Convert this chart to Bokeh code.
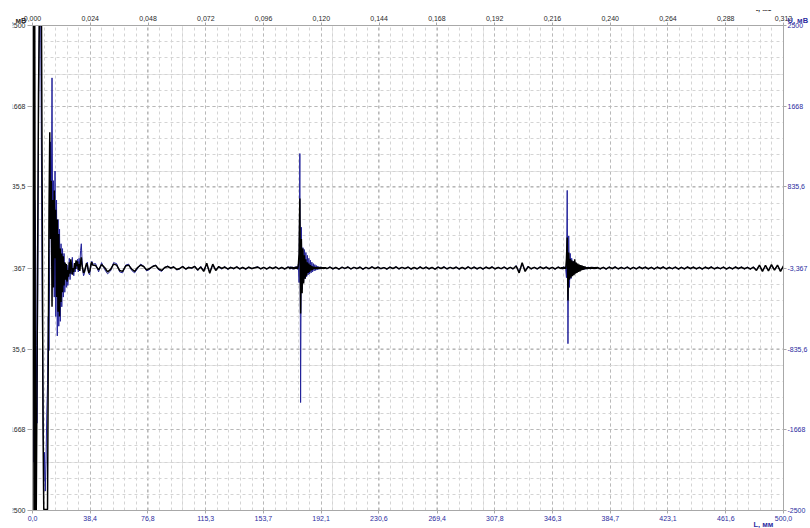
from bokeh.plotting import figure
from bokeh.models import (Range1d, LinearAxis, FixedTicker, CustomJSTickFormatter,
                          Label, Grid)
from bokeh.embed import file_html
from bokeh.resources import INLINE

# ---- reflectogram traces: (start mm, step mm, values mV) segments ----
black_segments = [
    (0.0, 0.5, [0, 2500, -2500, 2500, -2500, -2500, -1200, 300, 1800, 2500,
                2500, 2500, 2500, 600, -1600, -2490, -2490, -2490, -2490, -2490,
                -2490, -900, 600, 1400, 300, 900, -400, 700, -200, 800,
                100, 600, -300, 500, -450, 350, -500, 200, -350, 150,
                -250, 120, -180, 60, -120, 40, -140, -20, -90, 60,
                -60, 90, 20, -70, 0, -40, 50, -10, 80, 20,
                70, -20, 40, -30, 60, 110, 20, -10, -50, -40,
                -10, 20, 50, 30, -20, -50, -40, 0, 40, 60, 30]),
    (42.0, 2.0, [25, -20, 35, 5, -40, -15, 40, 30, -25, -35, 20, 30, -10, -35, 5,
                 30, 15, -20, -5, 15, 25, -10, -25, 5, 15, 0, 10, -15, -5, 15,
                 -10, 5, 0, 15, -20, 10, -35, 50, -55, 40, -25, 15, -5, 10, -10,
                 5, -5, 12, -8, 5, -10, 8, -5, 3, 10, -8, 6, -10, 8, -5,
                 10, -8, 5, -10, 8]),
    (171.0, 0.5, [6, -8, 10, -5, 8, -10, 6, -8, 10, -6, 12, -10, 30, 150,
                  716, -470, 300, -260, 200, -160, 130, -110, 90, -80, 60, -50,
                  45, -40, 30, -25, 20, -18, 12, -8, 10, -10, 6, -8, 9, -7,
                  6, -8, 9, -6, 7, -8, 6, -7, 5]),
    (196.0, 2.0, [-6, 9, -8, 5, -11, 7, -4, 10, -9, 6, -5, 8, -12, 6, -7,
                  11, -5, 8, -6, 4, -10, 8, -5, 11, -8, 6, -5, 9, -10, 5,
                  -8, 10, -6, 8, -8, 5, -11, 9, -5, 10, -8, 6, -5, 8, -10,
                  5, -8, 11, -6, 8, -8, 6, -10, 8, -5, 10, -8, 5, -6, 9,
                  -10, 6, -8, 20, -50, 55, -35, 15, -8, 6, -8, 10, -5, 8, -8,
                  6, -10, 8, -5]),
    (352.5, 0.5, [6, -8, 9, -6, 8, -10, 90, 315, -335, 160, -120, 95, -100, 80,
                  -85, 70, -75, 90, -60, 55, -50, 45, -40, 35, -35, 30, -25, 25,
                  -20, 18, -14, 12, -10, 8, -9, 8, -7, 6, -8, 9, -6, 7,
                  -8, 6, -7, 8, -6, 5]),
    (378.0, 2.0, [-8, 6, -10, 8, -5, 10, -8, 5, -6, 9, -10, 6, -8, 10, -5,
                  8, -8, 6, -10, 8, -5, 10, -8, 5, -6, 9, -10, 6, -8, 10,
                  -5, 8, -8, 6, -10, 8, -5, 10, -8, 5, -6, 9, -10, 6, -8,
                  10, -5, 8, -8, 6, -10, 8, -25, 30, -35, 28, -30, 35, -22, 30,
                  -35, 22]),
]

blue_segments = [
    (0.0, 0.5, [0, 1800, -2000, 700, 400, -800, -1600, -200, 1500, 2500,
                2500, 2500, 1000, -400, -1300, -2200, -1900, -2300, -2000, -1500,
                -1200, -500, -850, 200, 1300, 600, 1960, 200, 900, -300,
                1000, -500, 700, -700, 500, -600, 400, -550, 250, -400,
                200, -300, 150, -250, 50, -200, 30, -180, -60, 100,
                -120, 60, -60, 110, -30, -80, 30, -40, 60, -10,
                90, -40, 100, 20, 180, 250, 80, -30, -80, -60,
                -20, 10, 40, 60, 0, -60, -70, -20, 30, 70, 40]),
    (42.0, 2.0, [45, -40, 55, -15, -60, -30, 55, 45, -40, -50, 30, 40, -25, -50, -5,
                 40, 20, -30, -15, 20, 30, -20, -35, 5, 20, -5, 15, -20, -10, 20,
                 -15, 10, -5, 20, -25, 15, -25, 35, -40, 30, -20, 10, -10, 15, -15,
                 10, -10, 15, -12, 8, -15, 10, -8, 5, 12, -10, 8, -12, 10, -8,
                 12, -10, 8, -12, 10]),
    (171.0, 0.5, [10, -12, 14, -9, 12, -14, 10, -12, 14, -10, 16, -14, 40, -150,
                  1180, -1387, 420, -220, 210, -140, 190, -110, 160, -90, 130, -70,
                  100, -60, 80, -50, 60, -40, 45, -30, 35, -25, 25, -20, 18, -14,
                  12, -12, 12, -10, 10, -10, 9, -9, 8]),
    (196.0, 2.0, [-10, 12, -12, 9, -14, 10, -8, 13, -12, 9, -9, 12, -15, 9, -10,
                  14, -9, 12, -10, 8, -14, 12, -9, 14, -12, 9, -9, 12, -14, 9,
                  -12, 14, -10, 12, -12, 9, -14, 12, -9, 14, -12, 9, -9, 12, -14,
                  9, -12, 14, -10, 12, -12, 9, -14, 12, -9, 14, -12, 9, -10, 12,
                  -14, 9, -12, 25, -40, 45, -30, 20, -12, 9, -12, 14, -9, 12, -12,
                  9, -14, 12, -9]),
    (352.5, 0.5, [10, -12, 14, -10, 12, -14, -100, 800, -780, 330, -200, 150, -110,
                  100, -80, 70, -60, 60, -50, 45, -40, 35, -30, 30, -25, 25, -20,
                  20, -18, 15, -14, 12, -12, 10, -10, 12, -10, 9, -12, 10, -9,
                  12, -10, 9, -12, 10, -9, 8]),
    (378.0, 2.0, [-12, 9, -14, 12, -9, 14, -12, 9, -10, 12, -14, 9, -12, 14, -9,
                  12, -12, 9, -14, 12, -9, 14, -12, 9, -10, 12, -14, 9, -12, 14,
                  -9, 12, -12, 9, -14, 12, -9, 14, -12, 9, -10, 12, -14, 9, -12,
                  14, -9, 12, -12, 9, -14, 12, -20, 25, -30, 22, -25, 30, -18, 25,
                  -30, 18]),
]

# ---- axis tick values and labels ----
l_ticks = [0.0, 38.4, 76.8, 115.3, 153.7, 192.1, 230.6, 269.4, 307.8, 346.3,
           384.7, 423.1, 461.6, 500.0]
t_ticks = [0.000, 0.024, 0.048, 0.072, 0.096, 0.120, 0.144, 0.168, 0.192, 0.216,
           0.240, 0.264, 0.288, 0.312]
u_left_ticks = [2500, 1668, 835.5, -3.367, -835.6, -1668, -2500]
u_right_ticks = [2500, 1668, 835.6, -3.367, -835.6, -1668, -2500]

BLUE = "#22229a"
LABEL_BLUE = "#2b2ba0"
DARK = "#2a2a2a"
FONT = "Liberation Sans"

# the canvas reaches TOP px above and LEFT px left of the window;
# those hidden strips give the side panels room for the caption rows
TOP = 70
LEFT = 14


def build(segments):
    xs, ys = [], []
    for start, step, vals in segments:
        for i, v in enumerate(vals):
            xs.append(round(start + i * step, 3))
            ys.append(v)
    return xs, ys


bx, by = build(black_segments)
ux, uy = build(blue_segments)

p = figure(width=810 + LEFT, height=528 + TOP,
           x_range=Range1d(0, 500), y_range=Range1d(-2500, 2500),
           output_backend="svg", toolbar_location=None,
           x_axis_location=None, y_axis_location=None,
           min_border_left=32 + LEFT, min_border_right=24, min_border_top=25 + TOP,
           min_border_bottom=18)
p.margin = (-TOP, 0, 0, -LEFT)
p.extra_x_ranges = {"t": Range1d(0, 0.312)}
p.background_fill_color = "white"
p.border_fill_color = "white"
p.outline_line_color = "#a8a8a8"

# minor grid positions: five subdivisions per major interval
x_minor = [i * 500 / 65 for i in range(66)]
y_minor = [-2500 + i * 5000 / 30 for i in range(31)]

x_ticker = FixedTicker(ticks=l_ticks, minor_ticks=x_minor)
y_ticker = FixedTicker(ticks=u_left_ticks, minor_ticks=y_minor)

for dim, tk in ((0, x_ticker), (1, y_ticker)):
    g = Grid(dimension=dim, ticker=tk,
             grid_line_color="#b8b8b8", grid_line_dash="3 3", grid_line_width=1,
             minor_grid_line_color="#d4d4d4", minor_grid_line_dash="3 3",
             minor_grid_line_width=1)
    p.add_layout(g)


def style_axis(ax, color, tick_out):
    ax.major_label_text_font = FONT
    ax.major_label_text_font_size = "7px"
    ax.major_label_text_color = color
    ax.axis_line_color = "#a8a8a8"
    ax.major_tick_line_color = "#a8a8a8"
    ax.major_tick_in = 0
    ax.major_tick_out = tick_out
    ax.minor_tick_in = 0
    ax.minor_tick_out = 0
    ax.major_label_standoff = 2


bottom = LinearAxis(ticker=FixedTicker(ticks=l_ticks),
                    formatter=CustomJSTickFormatter(code="return tick.toFixed(1).replace('.', ',')"))
style_axis(bottom, LABEL_BLUE, 3)
p.add_layout(bottom, "below")

top = LinearAxis(x_range_name="t", ticker=FixedTicker(ticks=t_ticks),
                 formatter=CustomJSTickFormatter(code="return tick.toFixed(3).replace('.', ',')"))
style_axis(top, DARK, 3)
p.add_layout(top, "above")

left = LinearAxis(ticker=FixedTicker(ticks=u_left_ticks),
                  formatter=CustomJSTickFormatter(code="return String(tick).replace('.', ',')"))
style_axis(left, DARK, 5)
p.add_layout(left, "left")

right = LinearAxis(ticker=FixedTicker(ticks=u_right_ticks),
                   formatter=CustomJSTickFormatter(code="return String(tick).replace('.', ',')"))
style_axis(right, LABEL_BLUE, 3)
right.major_label_standoff = 1
p.add_layout(right, "right")

# traces
p.line(ux, uy, line_color=BLUE, line_width=1)
p.line(bx, by, line_color="black", line_width=1.5)


# axis captions, placed in window pixels
def title(x, y, text, color, align, baseline="middle"):
    p.add_layout(Label(x=x + LEFT, y=y + TOP, x_units="canvas", y_units="canvas", text=text,
                       text_color=color, text_align=align, text_baseline=baseline,
                       text_font=FONT, text_font_size="7.5px", text_font_style="bold"),
                 "above")


title(26, 20, "U, мВ", DARK, "right")
title(787, 20, "U, мВ", LABEL_BLUE, "left")
title(753, 524, "L, мм", LABEL_BLUE, "left")
title(755, 12.5, "t, мс", DARK, "left", "bottom")


# white masks: the window's left edge strip and the band over the time caption
def mask(cx, cy, half_w, half_h, side):
    p.add_layout(Label(x=cx + LEFT, y=cy + TOP, x_units="canvas", y_units="canvas", text=" ",
                       text_font_size="1px", text_align="center", text_baseline="middle",
                       background_fill_color="white", background_fill_alpha=1.0,
                       padding=dict(left=half_w, right=half_w, top=half_h, bottom=half_h)),
                 side)


mask(763, -8, 16, 17, "above")
mask(6, 264, 6, 275, "left")

open("out.html", "w").write(file_html(p, INLINE))
